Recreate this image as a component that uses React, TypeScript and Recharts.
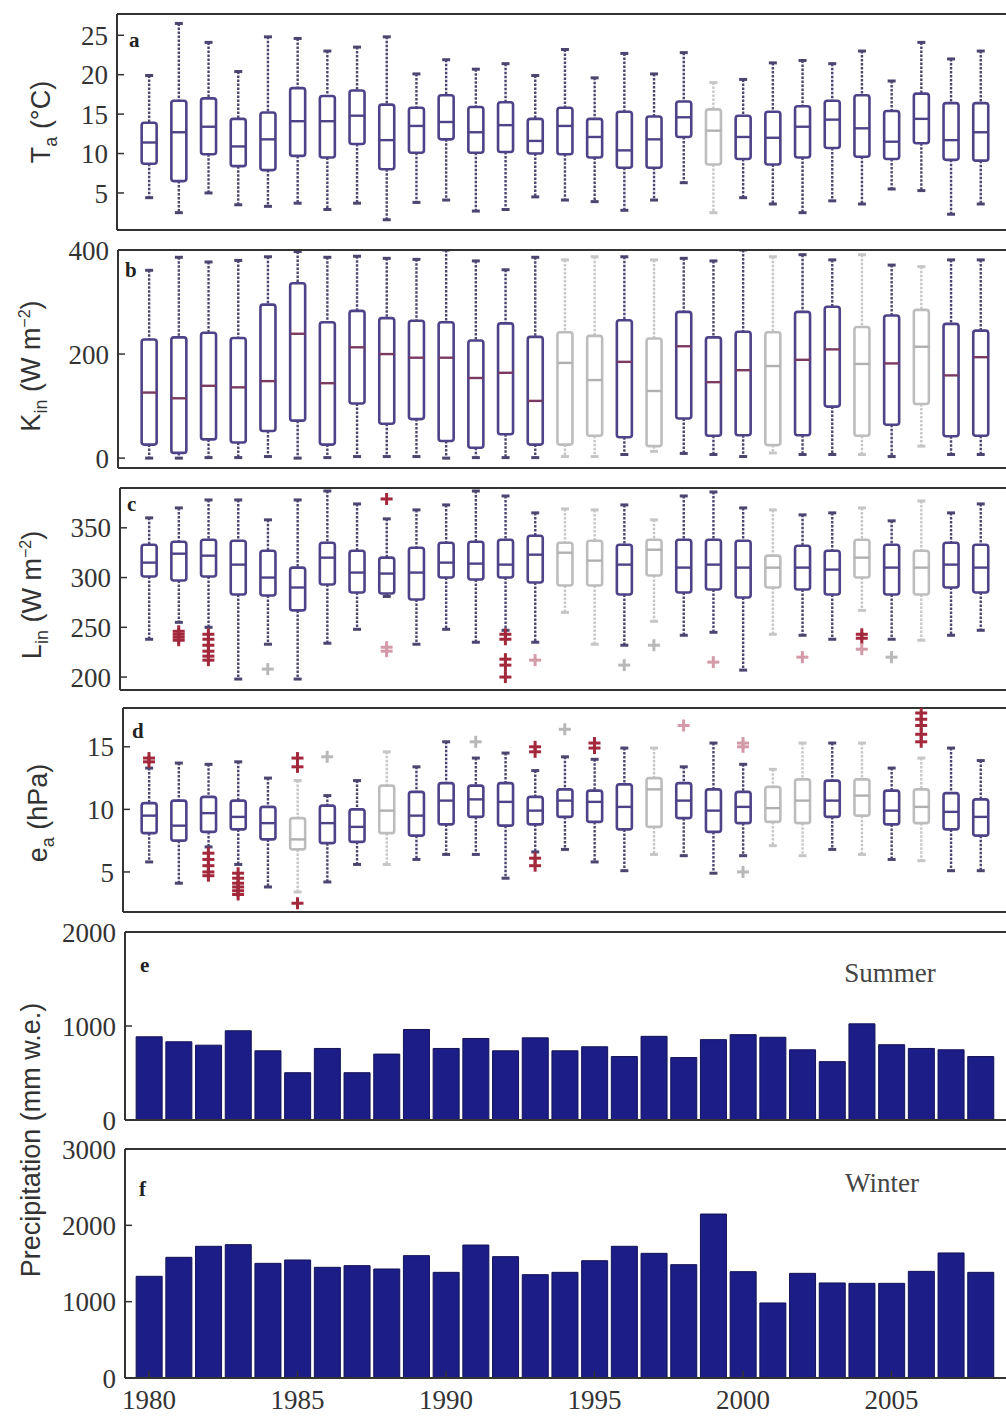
import React from 'react';
import { ComposedChart, Bar, Scatter, XAxis, YAxis } from 'recharts';

// ---------------- data ----------------
const years = [1980, 1981, 1982, 1983, 1984, 1985, 1986, 1987, 1988, 1989, 1990, 1991, 1992, 1993, 1994,
  1995, 1996, 1997, 1998, 1999, 2000, 2001, 2002, 2003, 2004, 2005, 2006, 2007, 2008];
const xTicks = [1980, 1985, 1990, 1995, 2000, 2005];

type Box = [number, number, number, number, number]; // whisker low, q1, median, q3, whisker high

// (a) air temperature Ta (°C)
const taBoxes: Box[] = [
  [4.4, 8.7, 11.4, 13.9, 19.9], [2.5, 6.5, 12.7, 16.7, 26.5], [5.0, 9.9, 13.4, 17.0, 24.1],
  [3.5, 8.4, 10.9, 14.4, 20.4], [3.3, 7.9, 11.8, 15.2, 24.8], [3.7, 9.7, 14.1, 18.3, 24.6],
  [2.9, 9.5, 14.1, 17.3, 23.0], [3.7, 11.2, 14.8, 18.0, 23.5], [1.6, 8.0, 11.7, 16.2, 24.8],
  [3.8, 10.1, 13.5, 15.8, 20.1], [4.1, 11.8, 14.0, 17.4, 21.9], [2.7, 10.1, 12.7, 15.9, 20.7],
  [2.9, 10.2, 13.6, 16.5, 21.4], [4.5, 10.0, 11.6, 14.4, 19.9], [4.1, 9.9, 13.5, 15.8, 23.2],
  [3.9, 9.5, 12.1, 14.4, 19.6], [2.8, 8.2, 10.4, 15.3, 22.7], [4.1, 8.2, 11.8, 14.7, 20.1],
  [6.3, 12.1, 14.6, 16.6, 22.8], [2.5, 8.6, 12.9, 15.6, 19.0], [4.4, 9.3, 12.1, 14.8, 19.4],
  [3.6, 8.6, 12.0, 15.3, 21.5], [2.5, 9.5, 13.4, 16.0, 21.8], [4.0, 10.7, 14.3, 16.7, 21.4],
  [3.6, 9.6, 13.2, 17.4, 23.0], [5.5, 9.3, 11.5, 15.4, 19.2], [5.3, 11.3, 14.4, 17.6, 24.1],
  [2.3, 9.2, 11.7, 16.4, 22.0], [3.6, 9.1, 12.7, 16.4, 23.0],
];
const taGrey = [1999];
const taTicks = [5, 10, 15, 20, 25];
const taDomain: [number, number] = [0.3, 27.7];

// (b) incoming shortwave K_in (W m-2)
const kinBoxes: Box[] = [
  [0, 26, 126, 228, 361], [0, 10, 115, 232, 386], [1, 36, 139, 241, 377], [1, 30, 136, 231, 380],
  [3, 52, 148, 295, 387], [0, 72, 239, 336, 397], [1, 26, 144, 261, 386], [3, 105, 213, 283, 388],
  [3, 66, 200, 269, 384], [3, 75, 193, 264, 382], [0, 33, 193, 261, 400], [1, 20, 154, 226, 379],
  [1, 46, 164, 259, 362], [1, 26, 110, 233, 386], [3, 26, 183, 242, 381], [3, 43, 150, 235, 387],
  [7, 40, 185, 265, 387], [13, 23, 129, 230, 381], [9, 76, 215, 281, 384], [7, 43, 146, 232, 379],
  [3, 44, 169, 243, 400], [10, 25, 177, 242, 387], [7, 44, 189, 281, 391], [7, 99, 209, 291, 381],
  [7, 43, 181, 252, 391], [3, 64, 182, 274, 371], [23, 104, 214, 285, 368], [7, 42, 159, 258, 381],
  [7, 43, 194, 245, 381],
];
const kinGrey = [1994, 1995, 1997, 2001, 2004, 2006];
const kinTicks = [0, 200, 400];
const kinDomain: [number, number] = [-19, 400];

// (c) incoming longwave L_in (W m-2)
const linBoxes: Box[] = [
  [238, 301, 315, 333, 360], [255, 297, 324, 336, 370], [250, 301, 322, 338, 378], [198, 283, 313, 337, 378],
  [233, 282, 300, 327, 358], [198, 267, 290, 310, 378], [234, 293, 320, 335, 387], [248, 285, 305, 327, 374],
  [281, 284, 304, 320, 359], [233, 278, 305, 330, 368], [248, 300, 315, 335, 373], [235, 298, 314, 336, 387],
  [247, 300, 313, 338, 382], [235, 295, 323, 342, 365], [265, 292, 325, 335, 369], [233, 292, 317, 337, 368],
  [232, 283, 313, 333, 373], [256, 302, 328, 338, 358], [242, 285, 310, 338, 382], [245, 288, 313, 338, 386],
  [207, 280, 310, 337, 370], [243, 290, 310, 322, 368], [242, 288, 310, 332, 363], [238, 283, 308, 327, 365],
  [267, 300, 320, 338, 370], [238, 283, 310, 333, 357], [237, 283, 310, 327, 377], [242, 290, 313, 335, 365],
  [247, 285, 310, 333, 374],
];
const linGrey = [1994, 1995, 1997, 2001, 2004, 2006];
const linTicks = [200, 250, 300, 350];
const linDomain: [number, number] = [187, 390];
const linOutliers: [number, number, string][] = [
  [1981, 246, 'r'], [1981, 243, 'r'], [1981, 240, 'r'], [1981, 237, 'r'],
  [1982, 243, 'r'], [1982, 238, 'r'], [1982, 232, 'r'], [1982, 226, 'r'], [1982, 221, 'r'], [1982, 217, 'r'],
  [1984, 208, 'g'], [1988, 379, 'r'], [1988, 230, 'p'], [1988, 226, 'p'],
  [1992, 243, 'r'], [1992, 238, 'r'], [1992, 218, 'r'], [1992, 212, 'r'], [1992, 200, 'r'],
  [1993, 217, 'p'], [1996, 212, 'g'], [1997, 232, 'g'], [1999, 215, 'p'], [2002, 220, 'p'],
  [2004, 243, 'r'], [2004, 239, 'r'], [2004, 228, 'p'], [2005, 220, 'g'],
];

// (d) vapour pressure e_a (hPa)
const eaBoxes: Box[] = [
  [5.8, 8.1, 9.5, 10.5, 13.3], [4.1, 7.5, 8.7, 10.7, 13.7], [7.0, 8.2, 9.7, 11.0, 13.6], [5.6, 8.4, 9.4, 10.7, 13.8],
  [3.8, 7.6, 8.9, 10.2, 12.5], [3.4, 6.8, 7.6, 9.3, 12.3], [4.2, 7.3, 8.9, 10.3, 11.1], [5.6, 7.4, 8.6, 10.0, 12.3],
  [5.6, 8.1, 9.9, 11.9, 14.6], [6.0, 7.9, 9.5, 11.4, 13.4], [6.4, 8.8, 10.7, 12.1, 15.4], [6.4, 9.4, 10.8, 11.9, 14.1],
  [4.5, 8.7, 10.6, 12.1, 14.5], [6.6, 8.8, 9.9, 11.0, 13.1], [6.8, 9.4, 10.7, 11.6, 14.2], [5.8, 9.0, 10.6, 11.5, 14.0],
  [5.1, 8.4, 10.2, 12.0, 14.9], [6.4, 8.6, 11.6, 12.5, 14.9], [6.3, 9.3, 10.7, 12.1, 13.4], [4.9, 8.2, 9.9, 11.6, 15.3],
  [6.3, 8.9, 10.2, 11.4, 13.6], [7.1, 9.0, 10.1, 11.8, 13.2], [6.3, 8.9, 10.7, 12.4, 15.3], [6.8, 9.4, 10.7, 12.3, 15.3],
  [6.4, 9.5, 11.1, 12.4, 15.3], [6.0, 8.8, 9.9, 11.5, 13.3], [5.9, 8.9, 10.2, 11.6, 14.1], [5.1, 8.4, 9.8, 11.3, 14.9],
  [5.1, 7.9, 9.4, 10.8, 13.9],
];
const eaGrey = [1985, 1988, 1997, 2001, 2002, 2004, 2006];
const eaTicks = [5, 10, 15];
const eaDomain: [number, number] = [1.8, 18.1];
const eaOutliers: [number, number, string][] = [
  [1980, 13.8, 'r'], [1980, 14.1, 'r'],
  [1982, 6.5, 'r'], [1982, 6.0, 'r'], [1982, 5.5, 'r'], [1982, 5.0, 'r'], [1982, 4.7, 'r'],
  [1983, 4.9, 'r'], [1983, 4.5, 'r'], [1983, 4.1, 'r'], [1983, 3.8, 'r'], [1983, 3.5, 'r'], [1983, 3.2, 'r'],
  [1985, 14.1, 'r'], [1985, 13.4, 'r'], [1985, 2.5, 'r'], [1986, 14.2, 'g'], [1991, 15.4, 'g'],
  [1993, 14.6, 'r'], [1993, 15.0, 'r'], [1993, 5.5, 'r'], [1993, 6.1, 'r'], [1994, 16.4, 'g'],
  [1995, 15.3, 'r'], [1995, 14.9, 'r'], [1998, 16.7, 'p'], [2000, 15.3, 'p'], [2000, 15.0, 'p'], [2000, 5.0, 'g'],
  [2006, 17.7, 'r'], [2006, 17.2, 'r'], [2006, 16.7, 'r'], [2006, 16.0, 'r'], [2006, 15.4, 'r'],
];

// (e) summer and (f) winter precipitation (mm w.e.)
const summerPrecip = [885, 832, 796, 949, 736, 503, 761, 503, 701, 963, 761, 867, 736, 874, 736,
  779, 675, 890, 664, 855, 908, 880, 747, 621, 1023, 801, 761, 747, 675];
const winterPrecip = [1332, 1581, 1725, 1747, 1502, 1546, 1450, 1472, 1428, 1603, 1384, 1742, 1590, 1354, 1384,
  1537, 1725, 1633, 1485, 2148, 1393, 983, 1371, 1245, 1240, 1240, 1397, 1638, 1384];
const summerTicks = [0, 1000, 2000];
const winterTicks = [0, 1000, 2000, 3000];

// ---------------- layout / style ----------------
const X1980 = 149;
const PX_PER_YEAR = 29.7;
const PLOT_RIGHT = 1008;
const PADT = 20;
const PADB = 20;
const SERIF = '"Liberation Serif", "DejaVu Serif", serif';
const SANS = '"Liberation Sans", Arial, sans-serif';
const AXIS = '#333';
const BOX = '#4e4288';
const WHISK = '#4b4570';
const GREY = '#bdbdbd';
const TONES: Record<string, string> = { r: '#a3283c', p: '#d49aa8', g: '#b8b8b8' };

type Cfg = { top: number; bottom: number; left: number };
const CFG: Record<string, Cfg> = {
  a: { top: 14, bottom: 230, left: 117 },
  b: { top: 250, bottom: 468, left: 118 },
  c: { top: 488, bottom: 690, left: 120 },
  d: { top: 708, bottom: 912, left: 123 },
  e: { top: 932, bottom: 1120, left: 125 },
  f: { top: 1149, bottom: 1378, left: 125 },
};
const chartTop = (cfg: Cfg) => cfg.top - PADT - 1;

const boxRows = (boxes: Box[], grey: number[]) =>
  years.map((year, i) => ({ year, range: [boxes[i][0], boxes[i][4]], box: boxes[i], grey: grey.includes(year) }));
const outRows = (list: [number, number, string][]) => list.map(([year, v, tone]) => ({ year, v, tone }));
const barRows = (vals: number[]) => years.map((year, i) => ({ year, v: vals[i] }));

const renderBox = (props: any, medColor: string) => {
  const { x, y, width, height, payload } = props;
  if (x == null || y == null || !payload) return <g />;
  const [lo, q1, med, q3, hi] = payload.box as Box;
  const top = Math.min(y, y + height);
  const bot = Math.max(y, y + height);
  const py = (v: number) => top + ((hi - v) / (hi - lo)) * (bot - top);
  const cx = x + width / 2;
  const g = payload.grey;
  const c = g ? GREY : BOX;
  const wc = g ? '#c6c6c6' : WHISK;
  const mc = g ? '#b0b0b0' : medColor;
  const bw = 15;
  const cw = 4;
  return (
    <g>
      <line x1={cx} x2={cx} y1={py(hi)} y2={py(q3)} stroke={wc} strokeWidth={2.4} strokeDasharray="2.5 1.5" />
      <line x1={cx} x2={cx} y1={py(q1)} y2={py(lo)} stroke={wc} strokeWidth={2.4} strokeDasharray="2.5 1.5" />
      <line x1={cx - cw} x2={cx + cw} y1={py(hi)} y2={py(hi)} stroke={wc} strokeWidth={3} />
      <line x1={cx - cw} x2={cx + cw} y1={py(lo)} y2={py(lo)} stroke={wc} strokeWidth={3} />
      <rect x={cx - bw / 2} y={py(q3)} width={bw} height={py(q1) - py(q3)} rx={2.5} fill="none" stroke={c} strokeWidth={2.6} />
      <line x1={cx - bw / 2} x2={cx + bw / 2} y1={py(med)} y2={py(med)} stroke={mc} strokeWidth={2.4} />
    </g>
  );
};

const renderPlus = (props: any) => {
  const { cx, cy, payload } = props;
  if (cx == null || cy == null) return <g />;
  const col = TONES[payload?.tone] || TONES.r;
  return (
    <g>
      <line x1={cx - 6} x2={cx + 6} y1={cy} y2={cy} stroke={col} strokeWidth={3} />
      <line x1={cx} x2={cx} y1={cy - 6} y2={cy + 6} stroke={col} strokeWidth={3} />
    </g>
  );
};

type Txt = { x: number; y: number };
const vTitle = (pos: Txt, cfg: Cfg, content: React.ReactNode) => (
  <text transform={`translate(${pos.x},${pos.y - chartTop(cfg)}) rotate(-90)`} textAnchor="middle"
    fontFamily={SANS} fontSize={27} fill="#333">{content}</text>
);
const letter = (ch: string, pos: Txt, cfg: Cfg) => (
  <text x={pos.x} y={pos.y - chartTop(cfg)} fontFamily={SERIF} fontWeight="bold" fontSize={21} fill="#222">{ch}</text>
);
const note = (s: string, pos: Txt, cfg: Cfg) => (
  <text x={pos.x} y={pos.y - chartTop(cfg)} textAnchor="middle" fontFamily={SERIF} fontSize={27} fill="#444">{s}</text>
);

function Panel(props: {
  cfg: Cfg; yDomain: [number, number]; yTicks: number[]; showX?: boolean; extraBottom?: number;
  label: () => React.ReactNode; data: any[]; children: React.ReactNode;
}) {
  const { cfg, yDomain, yTicks, showX = false, extraBottom = 0, label, data, children } = props;
  const xh = showX ? 45 : 1;
  const h = PADT + 1 + (cfg.bottom - cfg.top) + xh + PADB + extraBottom;
  const xMin = 1980 - (X1980 - cfg.left) / PX_PER_YEAR;
  const xMax = 1980 + (PLOT_RIGHT - X1980) / PX_PER_YEAR;
  const tickFont = { fontFamily: SERIF, fontSize: 27, fill: '#333' };
  return (
    <div style={{ position: 'absolute', left: 0, top: chartTop(cfg) }}>
      <ComposedChart width={PLOT_RIGHT + 2} height={h} data={data}
        margin={{ top: PADT, right: 1, bottom: PADB + extraBottom, left: 0 }}>
        <XAxis xAxisId={0} dataKey="year" type="number" domain={[xMin, xMax]} allowDataOverflow
          ticks={xTicks} interval={0} height={xh} tickSize={-7} tickMargin={19}
          tick={showX ? tickFont : false} axisLine={{ stroke: AXIS, strokeWidth: 2 }}
          tickLine={{ stroke: AXIS, strokeWidth: 1.5 }} />
        <XAxis xAxisId="top" orientation="top" dataKey="year" type="number" domain={[xMin, xMax]} allowDataOverflow
          ticks={xTicks} interval={0} height={1} tickSize={-7} tick={false}
          axisLine={{ stroke: AXIS, strokeWidth: 2 }} tickLine={{ stroke: AXIS, strokeWidth: 1.5 }} />
        <YAxis yAxisId={0} width={cfg.left} type="number" domain={yDomain} allowDataOverflow ticks={yTicks}
          interval={0} tickSize={-7} tickMargin={16} tick={tickFont}
          axisLine={{ stroke: AXIS, strokeWidth: 2 }} tickLine={{ stroke: AXIS, strokeWidth: 1.5 }}
          label={() => <g>{label()}</g>} />
        <YAxis yAxisId="r" orientation="right" width={1} type="number" domain={yDomain} allowDataOverflow
          ticks={yTicks} interval={0} tickSize={-7} tick={false}
          axisLine={{ stroke: AXIS, strokeWidth: 2 }} tickLine={{ stroke: AXIS, strokeWidth: 1.5 }} />
        {children}
      </ComposedChart>
    </div>
  );
}

export default function App() {
  const A = CFG.a, B = CFG.b, C = CFG.c, D = CFG.d, E = CFG.e, F = CFG.f;
  return (
    <div style={{ position: 'absolute', left: 0, top: 0, width: 1006, height: 1417, overflow: 'hidden', background: '#fff' }}>
      <Panel cfg={A} yDomain={taDomain} yTicks={taTicks} data={boxRows(taBoxes, taGrey)}
        label={() => (<>
          {vTitle({ x: 50, y: 122 }, A, <>T<tspan fontSize={18} dy={7}>a</tspan><tspan dy={-7}> (°C)</tspan></>)}
          {letter('a', { x: 129, y: 47 }, A)}
        </>)}>
        <Bar dataKey="range" barSize={16} isAnimationActive={false} shape={(p: any) => renderBox(p, BOX)} />
      </Panel>

      <Panel cfg={B} yDomain={kinDomain} yTicks={kinTicks} data={boxRows(kinBoxes, kinGrey)}
        label={() => (<>
          {vTitle({ x: 40, y: 366 }, B, <>K<tspan fontSize={18} dy={7}>in</tspan><tspan dy={-7}> (W m</tspan><tspan fontSize={16} dy={-10}>−2</tspan><tspan dy={10}>)</tspan></>)}
          {letter('b', { x: 125, y: 277 }, B)}
        </>)}>
        <Bar dataKey="range" barSize={16} isAnimationActive={false} shape={(p: any) => renderBox(p, '#7b3a62')} />
      </Panel>

      <Panel cfg={C} yDomain={linDomain} yTicks={linTicks} data={boxRows(linBoxes, linGrey)}
        label={() => (<>
          {vTitle({ x: 41, y: 595 }, C, <>L<tspan fontSize={18} dy={7}>in</tspan><tspan dy={-7}> (W m</tspan><tspan fontSize={16} dy={-10}>−2</tspan><tspan dy={10}>)</tspan></>)}
          {letter('c', { x: 127, y: 511 }, C)}
        </>)}>
        <Bar dataKey="range" barSize={16} isAnimationActive={false} shape={(p: any) => renderBox(p, BOX)} />
        <Scatter data={outRows(linOutliers)} dataKey="v" isAnimationActive={false} shape={renderPlus} />
      </Panel>

      <Panel cfg={D} yDomain={eaDomain} yTicks={eaTicks} data={boxRows(eaBoxes, eaGrey)}
        label={() => (<>
          {vTitle({ x: 47, y: 813 }, D, <>e<tspan fontSize={18} dy={7}>a</tspan><tspan dy={-7}> (hPa)</tspan></>)}
          {letter('d', { x: 132, y: 738 }, D)}
        </>)}>
        <Bar dataKey="range" barSize={16} isAnimationActive={false} shape={(p: any) => renderBox(p, BOX)} />
        <Scatter data={outRows(eaOutliers)} dataKey="v" isAnimationActive={false} shape={renderPlus} />
      </Panel>

      <Panel cfg={E} yDomain={[0, 2000]} yTicks={summerTicks} data={barRows(summerPrecip)} extraBottom={200}
        label={() => (<>
          {vTitle({ x: 40, y: 1140 }, E, <>Precipitation (mm w.e.)</>)}
          {letter('e', { x: 140, y: 972 }, E)}
          {note('Summer', { x: 890, y: 982 }, E)}
        </>)}>
        <Bar dataKey="v" barSize={26} fill="#1d1d88" stroke="#121255" strokeWidth={1} isAnimationActive={false} />
      </Panel>

      <Panel cfg={F} yDomain={[0, 3000]} yTicks={winterTicks} data={barRows(winterPrecip)} showX
        label={() => (<>
          {letter('f', { x: 139, y: 1196 }, F)}
          {note('Winter', { x: 882, y: 1192 }, F)}
        </>)}>
        <Bar dataKey="v" barSize={26} fill="#1d1d88" stroke="#121255" strokeWidth={1} isAnimationActive={false} />
      </Panel>
    </div>
  );
}
